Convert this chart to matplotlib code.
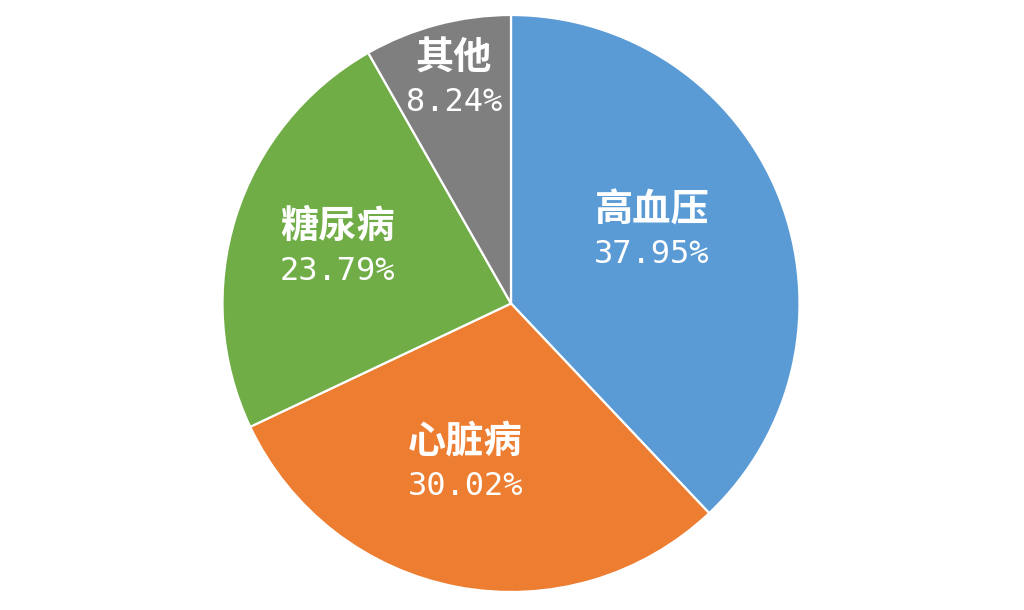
import matplotlib
matplotlib.use("Agg")
import matplotlib.pyplot as plt
import numpy as np

categories = ["高血压", "心脏病", "糖尿病", "其他"]
values = [37.95, 30.02, 23.79, 8.24]
colors = ["#5B9BD5", "#ED7D31", "#70AD47", "#7F7F7F"]
label_dist = [0.548, 0.58, 0.63, 0.80]
label_angle_shift = [5.2, -5.2, 0.0, -0.5]

plt.rcParams['font.family'] = ['Noto Sans CJK SC', 'DejaVu Sans']

fig = plt.figure(figsize=(10.24, 6.10), dpi=100)
ax = fig.add_axes([0, 0, 1, 1])
wedges, _ = ax.pie(values, colors=colors, startangle=90, counterclock=False,
                   radius=1.0, center=(0, 0),
                   wedgeprops=dict(edgecolor="white", linewidth=1.6))
R = 288.5
ax.set_aspect('auto')
ax.set_xlim(-511 / R, 513 / R)
ax.set_ylim(-306.5 / R, 303.5 / R)
ax.axis('off')

for w, cat, v, d, s in zip(wedges, categories, values, label_dist, label_angle_shift):
    ang = np.deg2rad((w.theta1 + w.theta2) / 2 + s)
    x, y = d * np.cos(ang), d * np.sin(ang)
    ax.annotate(cat, (x, y), xytext=(0, 16), textcoords='offset points',
                ha='center', va='center', color='white', fontsize=27.5,
                fontweight='bold', family=['Noto Sans CJK SC', 'DejaVu Sans'])
    ax.annotate(f"{v:.2f}%", (x, y), xytext=(0, -16), textcoords='offset points',
                ha='center', va='center', color='white', fontsize=23,
                family=['DejaVu Sans Mono', 'DejaVu Sans'])

fig.savefig("out.png", dpi=100)
